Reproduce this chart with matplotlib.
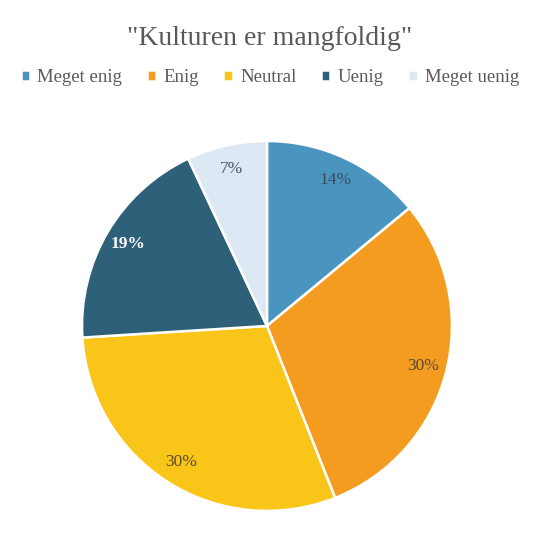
import matplotlib.pyplot as plt

categories = ['Meget enig', 'Enig', 'Neutral', 'Uenig', 'Meget uenig']
shares = [14, 30, 30, 19, 7]
colors = ['#4A94C0', '#F39C20', '#F9C519', '#2F6079', '#DCE9F4']
label_colors = ['#3d4a55', '#5a4a3a', '#5a4a30', '#ffffff', '#4a5560']

plt.rcParams['font.family'] = ['Liberation Serif', 'DejaVu Serif']

fig = plt.figure(figsize=(5.4, 5.34), dpi=100)
ax = fig.add_axes([0.1519, 0.0431, 0.685, 0.693])

wedges, texts, autotexts = ax.pie(
    shares, colors=colors, startangle=90, counterclock=False,
    autopct='%1.0f%%', pctdistance=0.87, radius=1,
    wedgeprops=dict(edgecolor='white', linewidth=1.8),
    textprops=dict(fontsize=12.5))
for t, c in zip(autotexts, label_colors):
    t.set_color(c)
autotexts[3].set_fontweight('bold')
ax.set_xlim(-1, 1)
ax.set_ylim(-1, 1)

fig.text(0.5, 0.928, '"Kulturen er mangfoldig"', ha='center', va='center',
         fontsize=20, color='#595959')
fig.legend(wedges, categories, loc='center', bbox_to_anchor=(0.5, 0.855),
           ncol=5, frameon=False, fontsize=13.5, handlelength=0.5,
           handleheight=0.5, handletextpad=0.4, columnspacing=1.3,
           labelcolor='#595959')

fig.savefig('out.png', dpi=100)
